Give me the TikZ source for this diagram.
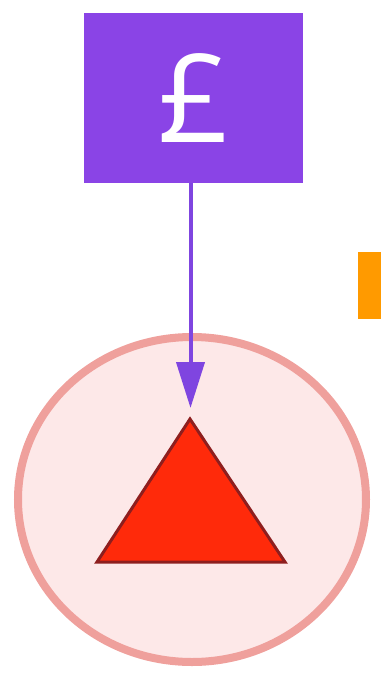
\documentclass[tikz,border=0pt]{standalone}
\usepackage{fontspec}
\setmainfont{Open Sans}
\usetikzlibrary{shapes.geometric,arrows.meta,positioning}
\definecolor{coin}{HTML}{8A44E6}
\definecolor{arrowc}{HTML}{7F45E0}
\definecolor{ringfill}{HTML}{FDE8E8}
\definecolor{ringline}{HTML}{EFA09C}
\definecolor{trifill}{HTML}{FF2A0A}
\definecolor{triline}{HTML}{8E1E1E}
\definecolor{amber}{HTML}{FF9A00}

\begin{document}
\begin{tikzpicture}[x=1pt, y=-1pt,
  cur/.style={rectangle, fill=coin, minimum width=219pt, minimum height=170pt, inner sep=0pt, text=white, font=\fontsize{123}{123}\selectfont},
  ring/.style={ellipse, draw=ringline, line width=8pt, fill=ringfill, minimum width=348pt, minimum height=325pt},
  tri/.style={fill=trifill, draw=triline, line width=3pt, line join=miter},
  arr/.style={-{Triangle[length=46pt, width=28pt]}, line width=4pt, arrowc}
]
  \useasboundingbox (0,0) rectangle (381,678);
  \node[cur] (gbp) at (193.5,98) {£};
  \node[ring] (ring) at (192,499.5) {};
  \fill[amber] (358,252) rectangle (381,319);
  % warning sign inside the ring
  \coordinate (apex) at (190,419);
  \coordinate (bl) at (97,562);
  \coordinate (br) at (285,562);
  \draw[tri] (apex) -- (bl) -- (br) -- cycle;
  \coordinate (tip) at (190.5,408);
  \draw[arr] (gbp.south -| tip) -- (tip);
\end{tikzpicture}
\end{document}
